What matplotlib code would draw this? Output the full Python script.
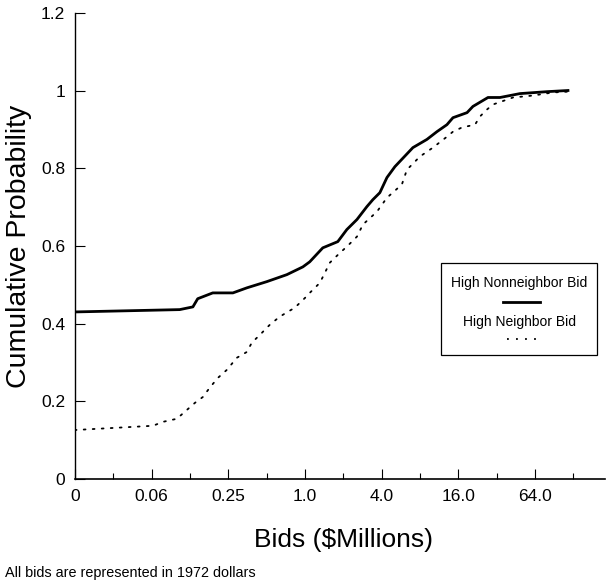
import numpy as np
import matplotlib.pyplot as plt
from matplotlib.patches import Rectangle
from matplotlib.lines import Line2D

plt.rcParams['font.family'] = ['Liberation Sans', 'DejaVu Sans']

# High nonneighbor bid (solid line), bids in $ millions vs cumulative probability
nonneighbor_x = [0.0156, 0.104, 0.132, 0.144, 0.189, 0.272, 0.350, 0.502, 0.721, 0.963,
                 1.09, 1.38, 1.81, 2.13, 2.56, 3.06, 3.41, 3.87, 4.40, 5.08,
                 7.03, 9.05, 10.85, 13.0, 14.5, 18.7, 20.8, 27.3, 33.9, 48.6,
                 79.2, 115.8]
nonneighbor_y = [0.430, 0.436, 0.443, 0.464, 0.479, 0.479, 0.492, 0.508, 0.526, 0.546,
                 0.559, 0.595, 0.611, 0.642, 0.668, 0.701, 0.719, 0.737, 0.776, 0.804,
                 0.853, 0.874, 0.894, 0.912, 0.930, 0.943, 0.959, 0.982, 0.982, 0.992,
                 0.997, 1.0]

# High neighbor bid (dotted line)
neighbor_x = [0.0156, 0.0643, 0.0766, 0.0988, 0.137, 0.158, 0.179, 0.207, 0.244, 0.292,
              0.350, 0.383, 0.443, 0.530, 0.635, 0.833, 1.0, 1.09, 1.31, 1.57,
              1.88, 2.13, 2.56, 2.85, 3.67, 4.40, 5.76, 6.31, 7.98, 10.1,
              13.0, 14.5, 17.1, 21.6, 23.6, 26.8, 29.9, 42.9, 61.5, 88.3, 115.8]
neighbor_y = [0.126, 0.137, 0.147, 0.155, 0.196, 0.211, 0.235, 0.260, 0.281, 0.312,
              0.327, 0.351, 0.371, 0.397, 0.418, 0.441, 0.466, 0.479, 0.505, 0.557,
              0.582, 0.598, 0.624, 0.655, 0.688, 0.724, 0.758, 0.796, 0.830, 0.853,
              0.881, 0.894, 0.905, 0.912, 0.933, 0.951, 0.964, 0.982, 0.987, 0.995, 0.997]

x_ticks = [4.0**k for k in range(-3, 4)]
x_labels = ['0', '0.06', '0.25', '1.0', '4.0', '16.0', '64.0']
y_ticks = [0, 0.2, 0.4, 0.6, 0.8, 1.0, 1.2]
y_labels = ['0', '0.2', '0.4', '0.6', '0.8', '1', '1.2']

fig = plt.figure(figsize=(6.08, 5.82), dpi=100)
ax = fig.add_axes([0.123, 0.177, 0.872, 0.801])

ax.plot(nonneighbor_x, nonneighbor_y, color='black', lw=2.0, solid_joinstyle='round')
ax.plot(neighbor_x, neighbor_y, color='black', lw=1.3, linestyle=(0, (1, 4)),
        dash_capstyle='round')

ax.set_xscale('log', base=4)
ax.set_xlim(1/64, 226)
ax.set_ylim(0, 1.2)

ax.set_xticks(x_ticks)
ax.set_xticklabels(x_labels)
ax.set_xticks([2 * 4.0**k for k in range(-3, 4)], minor=True)
ax.set_xticklabels([], minor=True)
ax.set_yticks(y_ticks)
ax.set_yticklabels(y_labels)

ax.tick_params(axis='both', which='major', direction='in', length=7, width=0.8,
               labelsize=12.5, pad=7)
ax.tick_params(axis='x', which='minor', direction='in', length=4, width=0.8)
ax.tick_params(axis='y', which='minor', left=False)

for s in ['top', 'right']:
    ax.spines[s].set_visible(False)
ax.spines['left'].set_linewidth(1.0)
ax.spines['bottom'].set_linewidth(1.2)

ax.set_ylabel('Cumulative Probability', fontsize=20.5)
ax.yaxis.set_label_coords(-0.08, 0.5)
ax.set_xlabel('Bids ($Millions)', fontsize=19)
ax.xaxis.set_label_coords(0.506, -0.105)

# legend box drawn by hand: label above its line sample
ax.add_patch(Rectangle((0.691, 0.266), 0.294, 0.198, transform=ax.transAxes,
                       fill=False, edgecolor='black', lw=0.9, clip_on=False))
ax.text(0.838, 0.421, 'High Nonneighbor Bid', transform=ax.transAxes,
        ha='center', va='center', fontsize=10)
ax.add_line(Line2D([0.808, 0.877], [0.380, 0.380], transform=ax.transAxes,
                   color='black', lw=2.0))
ax.text(0.838, 0.337, 'High Neighbor Bid', transform=ax.transAxes,
        ha='center', va='center', fontsize=10)
ax.add_line(Line2D([0.815, 0.877], [0.300, 0.300], transform=ax.transAxes,
                   color='black', lw=1.3, linestyle=(0, (1, 4))))

fig.text(0.008, 0.004, 'All bids are represented in 1972 dollars', fontsize=10.4,
         ha='left', va='bottom')

fig.savefig('out.png', dpi=100)
